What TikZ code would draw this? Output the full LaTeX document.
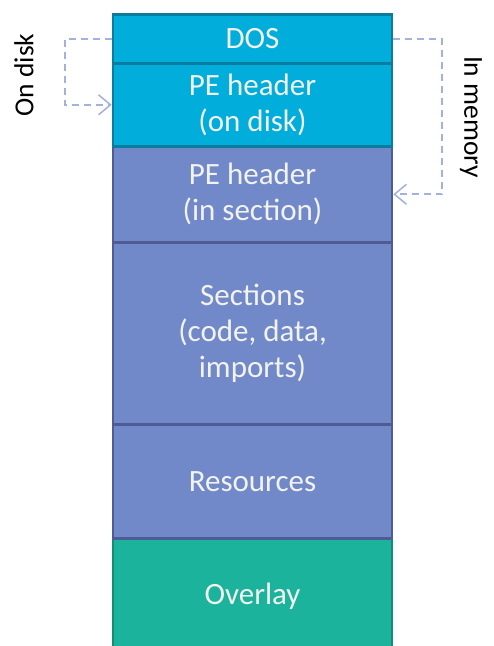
\documentclass[tikz,border=0pt]{standalone}
\usepackage{fontspec}
\setmainfont{Carlito}
\usetikzlibrary{arrows.meta}
\definecolor{hdrfill}{HTML}{00ADDB}
\definecolor{hdrline}{HTML}{0A7D9E}
\definecolor{secfill}{HTML}{7189C8}
\definecolor{secline}{HTML}{4D5C94}
\definecolor{ovlfill}{HTML}{1BB39B}
\definecolor{ovlline}{HTML}{138C78}
\definecolor{dashcol}{HTML}{A3B1DE}
\definecolor{labtext}{HTML}{F2F2EE}
\tikzset{
  layer/.style={draw, line width=2.6pt, minimum width=279pt, anchor=north,
    inner sep=0pt, align=center, text=labtext,
    font=\fontsize{31}{36}\selectfont},
  hdr/.style={layer, fill=hdrfill, draw=hdrline},
  sec/.style={layer, fill=secfill, draw=secline},
  ovl/.style={layer, fill=ovlfill, draw=ovlline},
  link/.style={draw=dashcol, line width=1.7pt, dash pattern=on 7pt off 5pt,
    -{Straight Barb[length=12pt,width=20pt,line width=1.5pt]}},
  side/.style={font=\fontsize{27.5}{30}\selectfont, text=black}
}
\begin{document}
\begin{tikzpicture}[x=1pt,y=-1pt]
\useasboundingbox (0,0) rectangle (494,646);
\clip (0,0) rectangle (494,646);
% stacked layers of the file image, top to bottom
\node[ovl, minimum height=115pt] (overlay) at (252.5,537) {Overlay};
\node[sec, minimum height=114pt] (res) at (252.5,423) {Resources};
\node[sec, minimum height=182pt] (sections) at (252.5,241) {Sections\\(code, data,\\imports)};
\node[sec, minimum height=96pt] (pesec) at (252.5,145) {PE header\\(in section)};
\node[hdr, minimum height=83pt] (pedisk) at (252.5,62) {PE header\\(on disk)};
\node[hdr, minimum height=49pt] (dos) at (252.5,13) {DOS};
% side labels
\node[side, rotate=90] (ondisk) at (24,75) {On disk};
\node[side, rotate=-90] (inmem) at (471,117) {In memory};
% where the PE header sits on disk and in memory
\draw[link] (dos.west) -- ++(-47,0) |- (pedisk.west);
\draw[link] (dos.east) -- ++(49,0) |- (pesec.east);
\end{tikzpicture}
\end{document}
